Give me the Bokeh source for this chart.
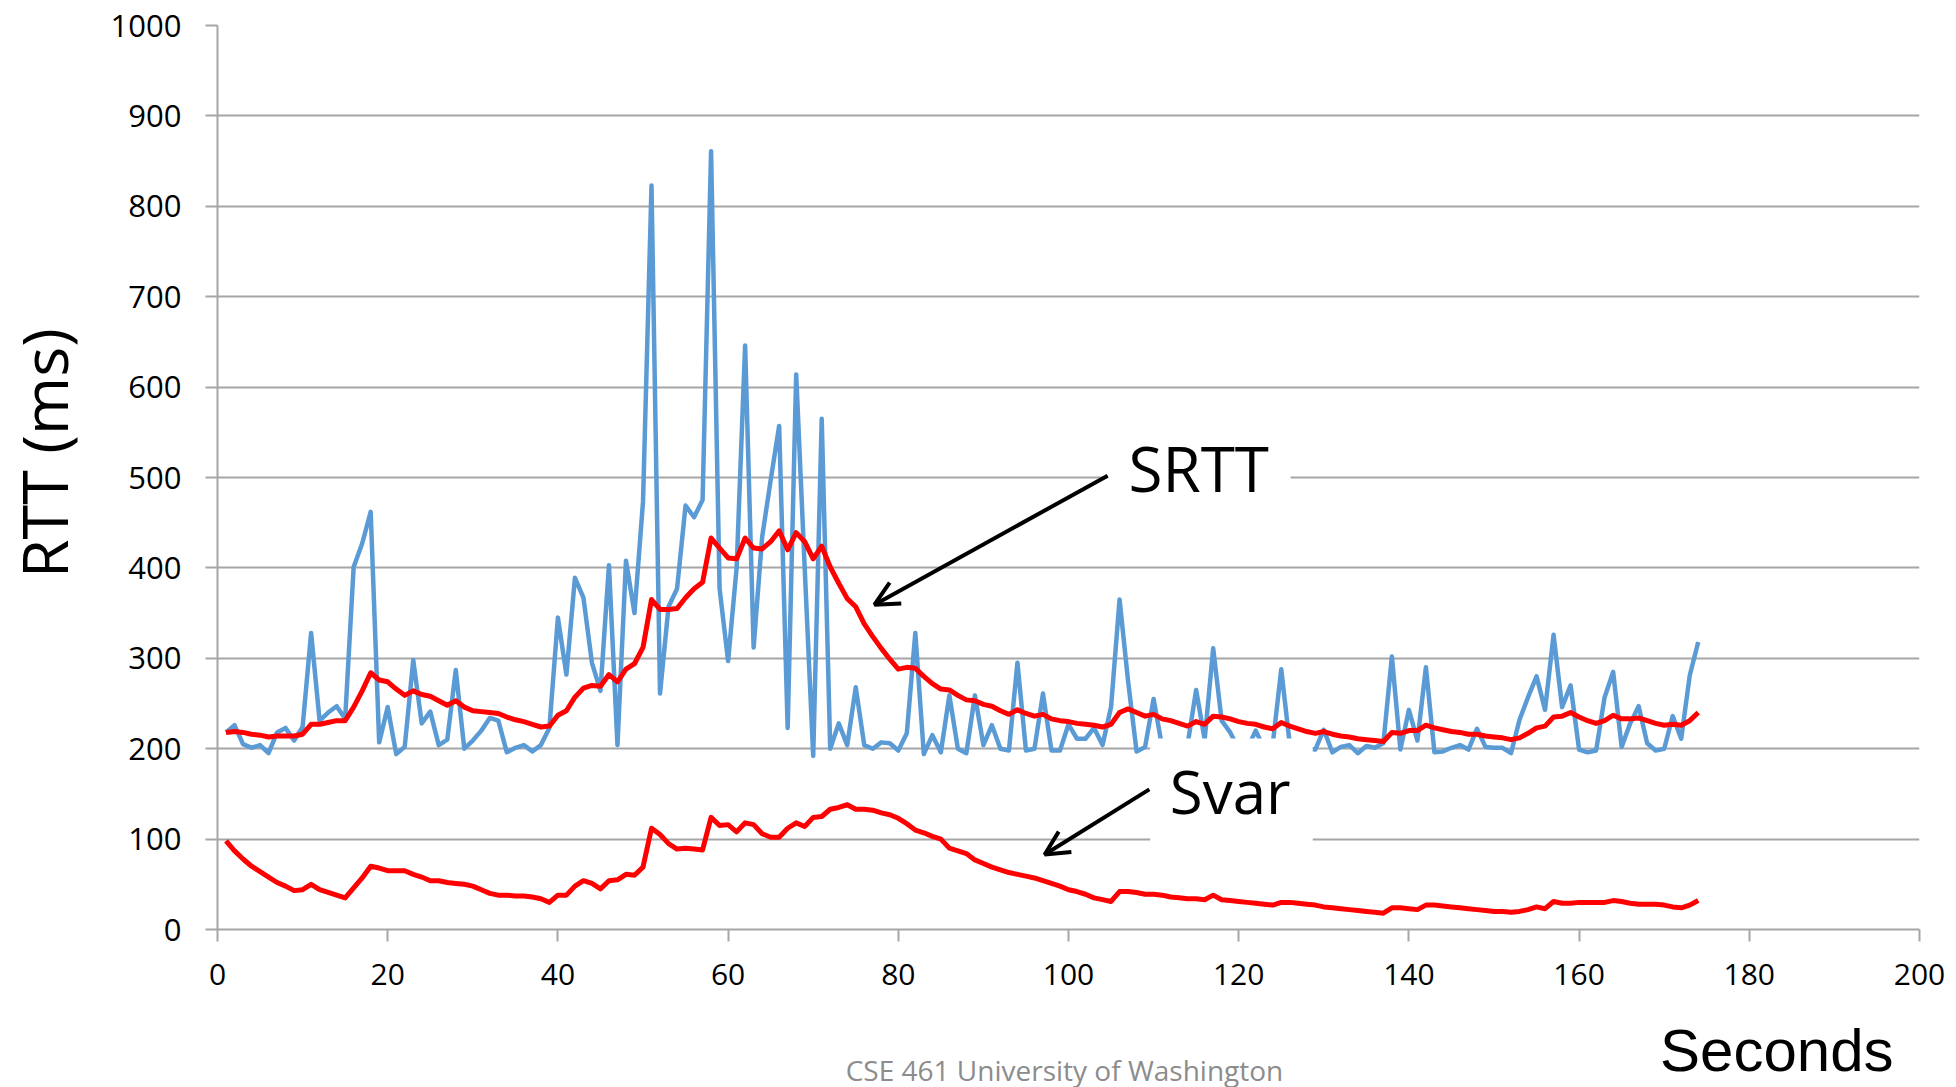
from bokeh.plotting import figure
from bokeh.layouts import column, row
from bokeh.models import Range1d, Label, Arrow, OpenHead, BoxAnnotation, FixedTicker
from bokeh.embed import file_html
from bokeh.resources import INLINE

# ---- data ----
seconds = list(range(1, 175))

rtt = [218, 226, 205, 201, 204, 195, 218, 223, 209, 224,
       328, 231, 240, 247, 233, 401, 427, 462, 207, 246,
       194, 202, 298, 228, 241, 204, 210, 287, 200, 209,
       220, 234, 231, 196, 201, 204, 197, 204, 223, 345,
       282, 389, 367, 295, 264, 403, 204, 408, 350, 473,
       823, 261, 357, 377, 469, 456, 475, 861, 377, 297,
       400, 646, 312, 434, 497, 557, 223, 614, 400, 192,
       565, 200, 228, 204, 268, 204, 200, 207, 206, 198,
       217, 328, 194, 215, 196, 259, 200, 195, 259, 204,
       226, 200, 198, 295, 198, 200, 261, 198, 198, 227,
       211, 211, 223, 204, 246, 365, 275, 197, 202, 255,
       202, 200, 200, 205, 265, 210, 311, 231, 218, 200,
       200, 220, 200, 205, 288, 205, 200, 200, 199, 221,
       196, 202, 204, 195, 203, 201, 206, 302, 199, 243,
       209, 290, 196, 197, 201, 204, 199, 222, 202, 201,
       201, 195, 232, 257, 280, 243, 326, 246, 270, 199,
       196, 198, 257, 285, 202, 228, 247, 206, 198, 200,
       236, 211, 281, 318]

srtt = [218, 219, 218, 216, 215, 213, 214, 214, 214, 216,
        227, 227, 229, 231, 231, 246, 264, 284, 276, 274,
        266, 259, 264, 260, 258, 253, 248, 253, 246, 242,
        241, 240, 239, 235, 232, 230, 227, 224, 225, 237,
        242, 257, 267, 270, 269, 282, 274, 288, 294, 312,
        365, 354, 354, 355, 367, 377, 384, 433, 422, 411,
        410, 433, 422, 421, 429, 441, 420, 439, 429, 410,
        424, 401, 383, 366, 357, 338, 324, 311, 299, 288,
        290, 289, 280, 272, 266, 265, 259, 254, 253, 249,
        247, 242, 238, 243, 239, 236, 238, 233, 231, 230,
        228, 227, 226, 224, 227, 240, 244, 240, 236, 238,
        233, 231, 228, 225, 230, 227, 236, 235, 233, 230,
        228, 227, 224, 222, 229, 225, 222, 219, 217, 219,
        216, 214, 213, 211, 210, 209, 208, 218, 217, 220,
        220, 226, 223, 221, 219, 218, 216, 216, 214, 213,
        212, 210, 212, 217, 223, 225, 235, 236, 240, 235,
        231, 228, 231, 237, 233, 233, 234, 231, 228, 226,
        227, 226, 231, 240]

svar = [98, 87, 78, 70, 64, 58, 52, 48, 43, 44,
        50, 44, 41, 38, 35, 46, 57, 70, 68, 65,
        65, 65, 61, 58, 54, 54, 52, 51, 50, 48,
        44, 40, 38, 38, 37, 37, 36, 34, 30, 38,
        38, 48, 54, 51, 45, 54, 55, 61, 60, 69,
        112, 105, 95, 89, 90, 89, 88, 124, 115, 116,
        108, 118, 116, 106, 102, 102, 112, 118, 114, 124,
        125, 133, 135, 138, 133, 133, 132, 129, 127, 123,
        117, 110, 107, 103, 100, 90, 87, 84, 77, 73,
        69, 66, 63, 61, 59, 57, 54, 51, 48, 44,
        42, 39, 35, 33, 31, 42, 42, 41, 39, 39,
        38, 36, 35, 34, 34, 33, 38, 33, 32, 31,
        30, 29, 28, 27, 30, 30, 29, 28, 27, 25,
        24, 23, 22, 21, 20, 19, 18, 24, 24, 23,
        22, 27, 27, 26, 25, 24, 23, 22, 21, 20,
        20, 19, 20, 22, 25, 23, 31, 29, 29, 30,
        30, 30, 30, 32, 31, 29, 28, 28, 28, 27,
        25, 24, 27, 32]

x_ticks = list(range(0, 201, 20))
y_ticks = list(range(0, 1001, 100))

FONT = "Open Sans"
GRID = "#a6a6a6"

LEFT_W = 90
MAIN_H = 1008
TOTAL_W = 1956
BOTTOM_H = 1087 - MAIN_H


def blank(width, height):
    f = figure(width=width, height=height,
               x_range=Range1d(0, width), y_range=Range1d(0, height),
               output_backend="svg", toolbar_location=None,
               x_axis_location=None, y_axis_location=None,
               min_border=0, min_border_left=0, min_border_right=0,
               min_border_top=0, min_border_bottom=0)
    f.outline_line_color = None
    f.grid.visible = False
    f.background_fill_color = "white"
    f.border_fill_color = "white"
    return f


p = figure(width=TOTAL_W - LEFT_W, height=MAIN_H,
           x_range=Range1d(0, 200), y_range=Range1d(0, 1000),
           output_backend="svg", toolbar_location=None,
           min_border_left=127, min_border_right=37,
           min_border_top=25, min_border_bottom=MAIN_H - 929)
p.outline_line_color = None
p.background_fill_color = "white"
p.border_fill_color = "white"

p.xgrid.visible = False
p.ygrid.grid_line_color = GRID
p.ygrid.grid_line_width = 2
p.ygrid.ticker = FixedTicker(ticks=y_ticks)

for ax in (p.xaxis[0], p.yaxis[0]):
    ax.axis_line_color = GRID
    ax.axis_line_width = 2
    ax.major_tick_line_color = GRID
    ax.major_tick_line_width = 2
    ax.major_tick_out = 12
    ax.major_tick_in = 0
    ax.minor_tick_line_color = None
    ax.major_label_text_font = FONT
    ax.major_label_text_color = "black"

p.xaxis.ticker = FixedTicker(ticks=x_ticks)
p.yaxis.ticker = FixedTicker(ticks=y_ticks)
p.xaxis.major_label_text_font_size = "30px"
p.yaxis.major_label_text_font_size = "31px"
p.xaxis.major_label_standoff = 22
p.yaxis.major_label_standoff = 24

p.line(seconds, rtt, line_color="#5b9bd5", line_width=4.5, line_join="round")
p.line(seconds, srtt, line_color="#ff0000", line_width=5, line_join="round")
p.line(seconds, svar, line_color="#ff0000", line_width=5, line_join="round")

# white boxes behind the callout labels
p.add_layout(BoxAnnotation(left=104.6, right=126.1, top=558, bottom=446,
                           fill_color="white", fill_alpha=1.0, line_color=None))
p.add_layout(BoxAnnotation(left=109.6, right=128.7, top=211.4, bottom=93,
                           fill_color="white", fill_alpha=1.0, line_color=None))

p.add_layout(Arrow(end=OpenHead(size=24, line_width=4, line_color="black"),
                   x_start=104.6, y_start=502, x_end=77.2, y_end=359.3,
                   line_width=4, line_color="black"))
p.add_layout(Arrow(end=OpenHead(size=24, line_width=4, line_color="black"),
                   x_start=109.5, y_start=155, x_end=97.2, y_end=83,
                   line_width=4, line_color="black"))

p.add_layout(Label(x=115.3, y=510, text="SRTT", text_font=FONT, text_font_size="62px",
                   text_align="center", text_baseline="alphabetic", text_color="black"))
p.add_layout(Label(x=119.0, y=153, text="Svar", text_font=FONT, text_font_size="60px",
                   text_align="center", text_baseline="alphabetic", text_color="black"))

# left strip with the vertical axis title
left = blank(LEFT_W, MAIN_H)
left.add_layout(Label(x=43, y=MAIN_H - 477, text="RTT (ms)", angle=1.5707963,
                      text_font=FONT, text_font_size="63px", text_align="center",
                      text_baseline="alphabetic", text_color="black"))

# bottom strip with the x title and the footer
bottom = blank(TOTAL_W, BOTTOM_H)
bottom.add_layout(Label(x=1893, y=37, text="Seconds", text_font="Liberation Sans",
                        text_font_size="60px", text_align="right",
                        text_baseline="alphabetic", text_color="black"))
bottom.add_layout(Label(x=1064, y=18, text="CSE 461 University of Washington",
                        text_font=FONT, text_font_size="28px", text_align="center",
                        text_baseline="alphabetic", text_color="#8c8c8c"))

layout = column(row(left, p, spacing=0), bottom, spacing=0)

open("out.html", "w").write(file_html(layout, INLINE))
